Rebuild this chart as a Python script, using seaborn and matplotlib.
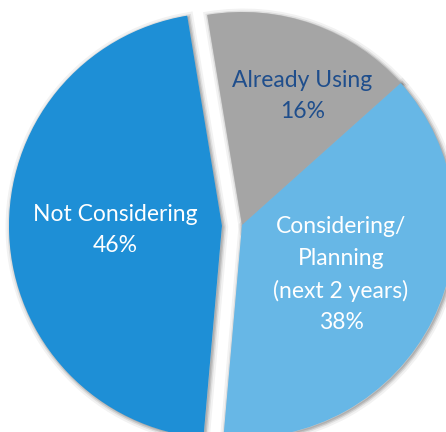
import matplotlib
matplotlib.use("Agg")
import matplotlib.pyplot as plt
import matplotlib.patheffects as pe
import numpy as np
import seaborn as sns

# ---- data ----
categories = ["Already Using", "Considering/\nPlanning\n(next 2 years)", "Not Considering"]
shares = [16, 38, 46]
pct_labels = ["16%", "38%", "46%"]

# ---- style ----
colors = ["#A5A5A5", "#67B7E6", "#1E8FD6"]
text_colors = ["#1F4E8C", "white", "white"]
explode = [0, 0, 0.094]
label_radius = [0.668, 0.52, 0.50]
label_angle_shift = [-5.6, 0.0, 0.0]

sns.set_theme(style="white")
plt.rcParams["font.family"] = ["Lato", "DejaVu Sans"]

fig = plt.figure(figsize=(4.46, 4.32), dpi=100)
ax = fig.add_axes([0, 0, 1, 1])
ax.set_axis_off()

# soft shadow layer
shadow_wedges, _ = ax.pie(shares, colors=["#888888"] * 3, explode=explode,
                          startangle=99.4, counterclock=False, radius=1.0,
                          wedgeprops=dict(linewidth=0))
for w in shadow_wedges:
    w.set_path_effects([
        pe.Stroke(linewidth=7, foreground="black", alpha=0.05, offset=(1.0, -1.0)),
        pe.Stroke(linewidth=4, foreground="black", alpha=0.08, offset=(1.0, -1.0)),
        pe.Stroke(linewidth=2, foreground="black", alpha=0.12, offset=(1.0, -1.0)),
    ])

wedges, _ = ax.pie(shares, colors=colors, explode=explode,
                   startangle=99.4, counterclock=False, radius=1.0,
                   wedgeprops=dict(linewidth=0))

for w, cat, pct, tc, lr, da in zip(wedges, categories, pct_labels, text_colors,
                                   label_radius, label_angle_shift):
    th = np.deg2rad((w.theta1 + w.theta2) / 2 + da)
    cx, cy = w.center
    x = cx + lr * w.r * np.cos(th)
    y = cy + lr * w.r * np.sin(th)
    ax.text(x, y, f"{cat}\n{pct}", ha="center", va="center", color=tc,
            fontsize=16.5, linespacing=1.6)

s = 213.0
ax.set_xlim(-242 / s, (446 - 242) / s)
ax.set_ylim(-(432 - 225) / s, 225 / s)
ax.set_aspect("equal")

fig.savefig("out.png", dpi=100)
